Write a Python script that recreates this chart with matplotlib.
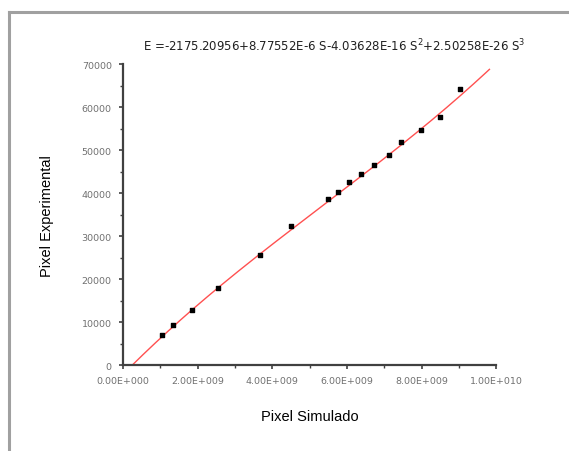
import matplotlib.pyplot as plt
import numpy as np
from matplotlib.lines import Line2D
from matplotlib.ticker import FixedLocator, MultipleLocator

plt.rcParams["font.family"] = ["Liberation Sans", "DejaVu Sans"]

pixel_simulado = [1.04e9, 1.35e9, 1.86e9, 2.56e9, 3.67e9, 4.51e9, 5.49e9, 5.77e9,
                  6.05e9, 6.37e9, 6.74e9, 7.12e9, 7.46e9, 7.99e9, 8.50e9, 9.03e9]
pixel_experimental = [6980, 9370, 12860, 17830, 25580, 32250, 38530, 40160,
                      42560, 44340, 46510, 48910, 51790, 54650, 57740, 64260]

# cubic fit coefficients shown in the title
coef = [-2175.20956, 8.77552e-6, -4.03628e-16, 2.50258e-26]
fit_start, fit_end = 0.25e9, 9.82e9

x_ticks = [0, 2e9, 4e9, 6e9, 8e9, 1e10]
x_labels = ["0.00E+000", "2.00E+009", "4.00E+009", "6.00E+009", "8.00E+009", "1.00E+010"]
y_ticks = [0, 10000, 20000, 30000, 40000, 50000, 60000, 70000]


def main() -> None:
    fig = plt.figure(figsize=(5.69, 4.52), dpi=100)
    ax = fig.add_axes([0.216, 0.190, 0.656, 0.666])

    s = np.linspace(fit_start, fit_end, 200)
    fit = coef[0] + coef[1] * s + coef[2] * s**2 + coef[3] * s**3
    ax.plot(s, fit, color="#ff5050", linewidth=1.0, zorder=2)
    ax.scatter(pixel_simulado, pixel_experimental, marker="s", s=10,
               color="black", zorder=3)

    ax.set_xlim(0, 1e10)
    ax.set_ylim(0, 70000)
    ax.xaxis.set_major_locator(FixedLocator(x_ticks))
    ax.set_xticklabels(x_labels, family="DejaVu Sans")
    ax.xaxis.set_minor_locator(MultipleLocator(1e9))
    ax.yaxis.set_major_locator(FixedLocator(y_ticks))
    ax.set_yticklabels([str(v) for v in y_ticks], family="DejaVu Sans")
    ax.yaxis.set_minor_locator(MultipleLocator(5000))

    for side in ("top", "right"):
        ax.spines[side].set_visible(False)
    for side in ("left", "bottom"):
        ax.spines[side].set_color("#404040")
        ax.spines[side].set_linewidth(1.6)
    ax.tick_params(which="both", direction="out", color="#404040",
                   labelsize=6.8, labelcolor="#707070")
    ax.tick_params(which="major", length=3, width=1.2, pad=5)
    ax.tick_params(which="minor", length=2, width=1.0)

    ax.set_xlabel("Pixel Simulado", fontsize=10.5, labelpad=17)
    ax.set_ylabel("Pixel Experimental", fontsize=10.5, labelpad=20)

    ax.text(0.055, 1.035, r"E =-2175.20956+8.77552E-6 S-4.03628E-16 S$^2$+2.50258E-26 S$^3$",
            transform=ax.transAxes, fontsize=8.5, family="DejaVu Sans",
            color="#202020", ha="left", va="bottom")

    # grey frame around the figure (top and left edges)
    fig.add_artist(Line2D([0.016, 1.0], [0.972, 0.972], transform=fig.transFigure,
                          color="#a0a0a0", linewidth=2.2))
    fig.add_artist(Line2D([0.016, 0.016], [0.0, 0.972], transform=fig.transFigure,
                          color="#a0a0a0", linewidth=2.2))

    fig.savefig("out.png", dpi=100)


if __name__ == "__main__":
    main()
